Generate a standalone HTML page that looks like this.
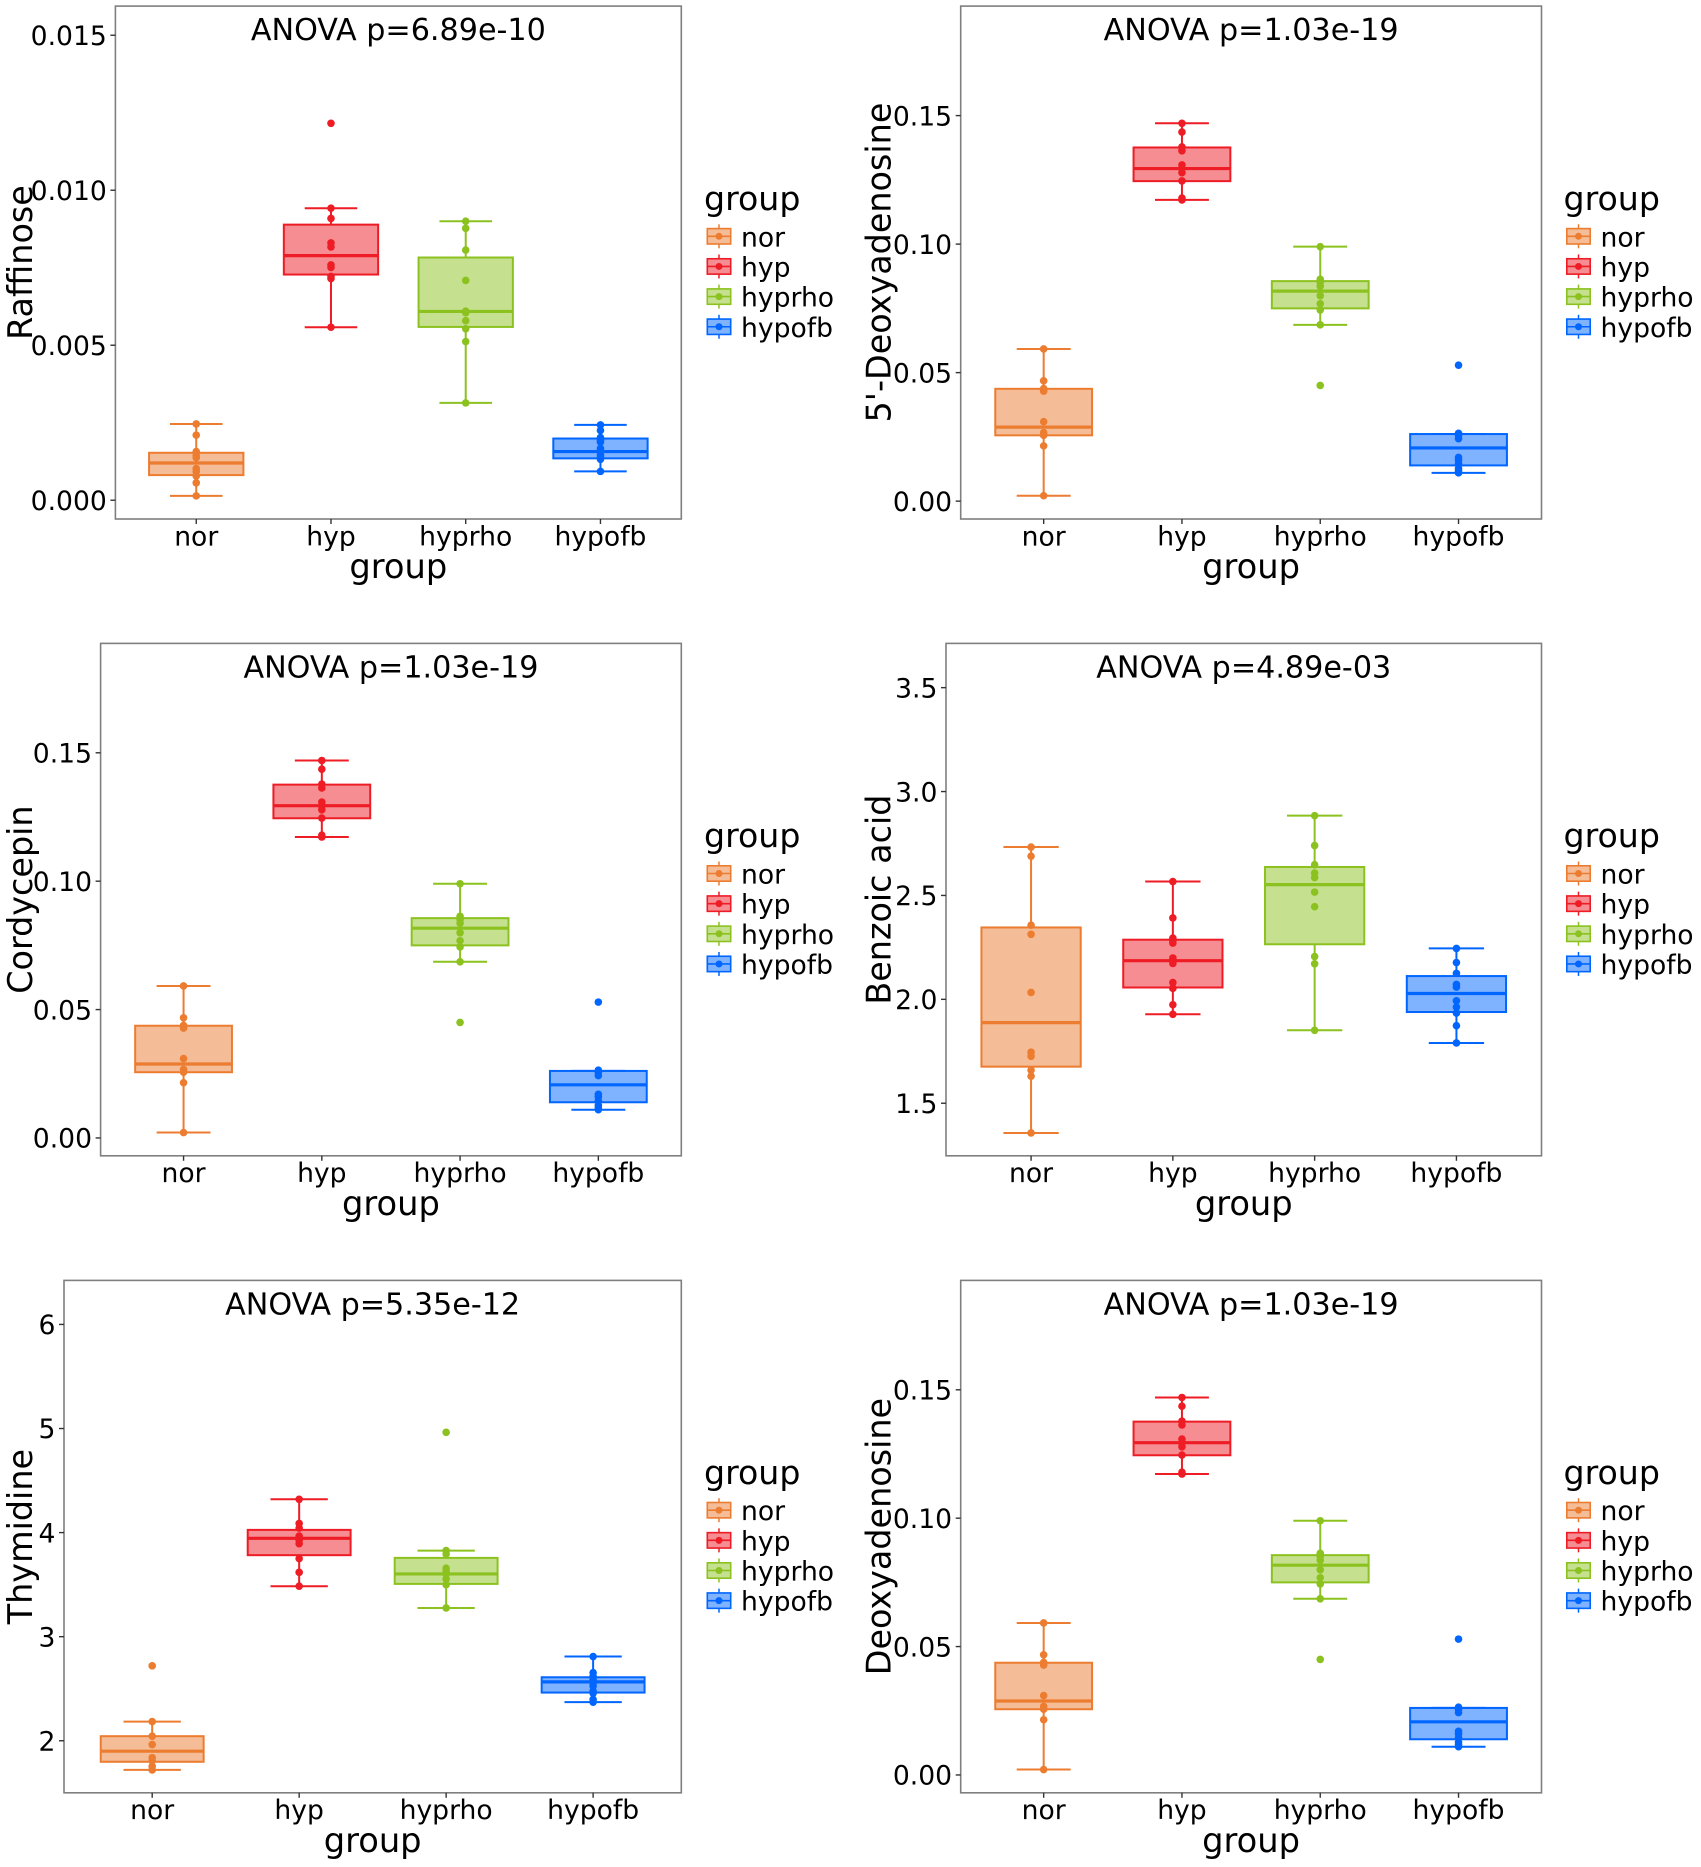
<!DOCTYPE html>
<html lang="en">
<head>
<meta charset="utf-8">
<title>Metabolite boxplots by group</title>
<style>
html,body{margin:0;padding:0;background:#fff;}
svg{display:block;}
text{font-family:"DejaVu Sans","Liberation Sans",sans-serif;fill:#000;}
</style>
</head>
<body>
<svg id="figure" xmlns="http://www.w3.org/2000/svg" width="1701" height="1867" viewBox="0 0 1701 1867"></svg>
<script>
// ---- shared categories and legend ----
const categories = ['nor', 'hyp', 'hyprho', 'hypofb'];
const groupColors = ['#ec7c30', '#ee1c25', '#8cc21f', '#0066ff'];

// ---- Raffinose ----
const raffinoseTicks = ['0.000', '0.005', '0.010', '0.015'];
const raffinoseQ1 = [0.00081, 0.00728, 0.00559, 0.00135];
const raffinoseMedian = [0.0012, 0.00789, 0.00609, 0.00157];
const raffinoseQ3 = [0.00153, 0.00889, 0.00783, 0.00199];
const raffinoseLow = [0.00014, 0.00558, 0.00314, 0.00093];
const raffinoseHigh = [0.00246, 0.00942, 0.009, 0.00243];
const raffinosePoints = [
  [0.00246, 0.0021, 0.00157, 0.00144, 0.00137, 0.00102, 0.00093, 0.00078, 0.00056, 0.00014],
  [0.01216, 0.00942, 0.00909, 0.0083, 0.00817, 0.00759, 0.00751, 0.00722, 0.00715, 0.00558],
  [0.009, 0.00877, 0.00807, 0.00709, 0.0061, 0.00605, 0.00579, 0.00553, 0.00512, 0.00314],
  [0.00243, 0.00225, 0.00202, 0.00194, 0.00188, 0.00167, 0.00157, 0.00147, 0.00138, 0.00132, 0.00093]
];

// ---- 5'-Deoxyadenosine, Cordycepin, Deoxyadenosine (identical readings) ----
const adenosineTicks = ['0.00', '0.05', '0.10', '0.15'];
const adenosineQ1 = [0.0256, 0.1245, 0.075, 0.0139];
const adenosineMedian = [0.0288, 0.1294, 0.0817, 0.0207];
const adenosineQ3 = [0.0437, 0.1376, 0.0856, 0.0261];
const adenosineLow = [0.0021, 0.1172, 0.0686, 0.011];
const adenosineHigh = [0.0592, 0.147, 0.099, 0.0261];
const adenosinePoints = [
  [0.0592, 0.0468, 0.0438, 0.0432, 0.0428, 0.0309, 0.0267, 0.0256, 0.0215, 0.0021],
  [0.147, 0.1436, 0.1378, 0.1363, 0.1308, 0.1293, 0.1278, 0.1246, 0.1179, 0.1172],
  [0.099, 0.0863, 0.0851, 0.0836, 0.0799, 0.0768, 0.0744, 0.0686, 0.045],
  [0.0529, 0.0264, 0.0255, 0.0243, 0.017, 0.016, 0.0145, 0.0127, 0.0118, 0.011]
];

// ---- Benzoic acid ----
const benzoicTicks = ['1.5', '2.0', '2.5', '3.0', '3.5'];
const benzoicQ1 = [1.676, 2.057, 2.265, 1.939];
const benzoicMedian = [1.888, 2.186, 2.552, 2.028];
const benzoicQ3 = [2.346, 2.287, 2.637, 2.112];
const benzoicLow = [1.357, 1.928, 1.851, 1.79];
const benzoicHigh = [2.733, 2.567, 2.884, 2.245];
const benzoicPoints = [
  [2.733, 2.689, 2.357, 2.313, 2.033, 1.746, 1.726, 1.659, 1.63, 1.357],
  [2.567, 2.392, 2.295, 2.282, 2.271, 2.199, 2.188, 2.173, 2.081, 2.053, 1.974, 1.928],
  [2.884, 2.74, 2.648, 2.608, 2.586, 2.516, 2.446, 2.206, 2.171, 1.851],
  [2.245, 2.177, 2.125, 2.072, 2.059, 1.993, 1.963, 1.934, 1.873, 1.79]
];

// ---- Thymidine ----
const thymidineTicks = ['2', '3', '4', '5', '6'];
const thymidineQ1 = [1.798, 3.783, 3.507, 2.463];
const thymidineMedian = [1.9, 3.945, 3.603, 2.566];
const thymidineQ3 = [2.044, 4.026, 3.757, 2.61];
const thymidineLow = [1.72, 3.485, 3.276, 2.371];
const thymidineHigh = [2.184, 4.32, 3.827, 2.809];
const thymidinePoints = [
  [2.72, 2.184, 2.044, 1.963, 1.838, 1.809, 1.754, 1.72],
  [4.32, 4.088, 4.044, 3.967, 3.926, 3.893, 3.75, 3.618, 3.485],
  [4.963, 3.827, 3.794, 3.658, 3.629, 3.6, 3.555, 3.5, 3.276],
  [2.809, 2.654, 2.618, 2.588, 2.555, 2.526, 2.478, 2.456, 2.397, 2.371]
];

// ---- panel definitions ----
const raffinoseDomain = [-0.000606, 0.01594];
const adenosineDomain = [-0.00695, 0.1926];
const benzoicDomain = [1.247, 3.713];
const thymidineDomain = [1.5, 6.423];

const panels = [
  { key: 'raffinose', yTitle: 'Raffinose', pValue: 'ANOVA p=6.89e-10', ticks: raffinoseTicks, domain: raffinoseDomain,
    q1: raffinoseQ1, med: raffinoseMedian, q3: raffinoseQ3, lo: raffinoseLow, hi: raffinoseHigh, pts: raffinosePoints,
    left: 115.4, right: 681.3, top: 6.1, bottom: 519, titleX: 20, legendX: 0, legendY: 0 },
  { key: 'five-deoxyadenosine', yTitle: "5'-Deoxyadenosine", pValue: 'ANOVA p=1.03e-19', ticks: adenosineTicks, domain: adenosineDomain,
    q1: adenosineQ1, med: adenosineMedian, q3: adenosineQ3, lo: adenosineLow, hi: adenosineHigh, pts: adenosinePoints,
    left: 960.7, right: 1541.5, top: 6.1, bottom: 519, titleX: 878.5, legendX: 859.5, legendY: 0 },
  { key: 'cordycepin', yTitle: 'Cordycepin', pValue: 'ANOVA p=1.03e-19', ticks: adenosineTicks, domain: adenosineDomain,
    q1: adenosineQ1, med: adenosineMedian, q3: adenosineQ3, lo: adenosineLow, hi: adenosineHigh, pts: adenosinePoints,
    left: 100.6, right: 681.3, top: 643.4, bottom: 1155.8, titleX: 20, legendX: 0, legendY: 637.2 },
  { key: 'benzoic-acid', yTitle: 'Benzoic acid', pValue: 'ANOVA p=4.89e-03', ticks: benzoicTicks, domain: benzoicDomain,
    q1: benzoicQ1, med: benzoicMedian, q3: benzoicQ3, lo: benzoicLow, hi: benzoicHigh, pts: benzoicPoints,
    left: 946, right: 1541.5, top: 643.4, bottom: 1155.8, titleX: 878.5, legendX: 859.5, legendY: 637.2 },
  { key: 'thymidine', yTitle: 'Thymidine', pValue: 'ANOVA p=5.35e-12', ticks: thymidineTicks, domain: thymidineDomain,
    q1: thymidineQ1, med: thymidineMedian, q3: thymidineQ3, lo: thymidineLow, hi: thymidineHigh, pts: thymidinePoints,
    left: 64, right: 681.3, top: 1280.4, bottom: 1792.8, titleX: 20, legendX: 0, legendY: 1273.9 },
  { key: 'deoxyadenosine', yTitle: 'Deoxyadenosine', pValue: 'ANOVA p=1.03e-19', ticks: adenosineTicks, domain: adenosineDomain,
    q1: adenosineQ1, med: adenosineMedian, q3: adenosineQ3, lo: adenosineLow, hi: adenosineHigh, pts: adenosinePoints,
    left: 960.7, right: 1541.5, top: 1280.4, bottom: 1792.8, titleX: 878.5, legendX: 859.5, legendY: 1273.9 }
];

const NS = 'http://www.w3.org/2000/svg';
const figure = document.getElementById('figure');

function make(parent, tag, attrs, content) {
  const node = document.createElementNS(NS, tag);
  for (const k in attrs) node.setAttribute(k, attrs[k]);
  if (content !== undefined) node.textContent = content;
  parent.appendChild(node);
  return node;
}

function drawBox(group, panel, i, xScale, yScale, unit) {
  const c = groupColors[i];
  const cx = xScale(i);
  const boxW = unit * 0.7;
  const capW = unit * 0.39;
  const parts = make(group, 'g', {});
  
  

  const upper = make(parts, 'line', { x1: cx, x2: cx, y1: yScale(panel.hi[i]), y2: yScale(panel.q3[i]), stroke: c, 'stroke-width': 2 });
  
  

  const lower = make(parts, 'line', { x1: cx, x2: cx, y1: yScale(panel.q1[i]), y2: yScale(panel.lo[i]), stroke: c, 'stroke-width': 2 });
  
  

  const capHigh = make(parts, 'line', { x1: cx - capW / 2, x2: cx + capW / 2, y1: yScale(panel.hi[i]), y2: yScale(panel.hi[i]), stroke: c, 'stroke-width': 2 });
  
  

  const capLow = make(parts, 'line', { x1: cx - capW / 2, x2: cx + capW / 2, y1: yScale(panel.lo[i]), y2: yScale(panel.lo[i]), stroke: c, 'stroke-width': 2 });
  
  

  const rect = make(parts, 'rect', {
    x: cx - boxW / 2, y: yScale(panel.q3[i]), width: boxW,
    height: yScale(panel.q1[i]) - yScale(panel.q3[i]),
    fill: c, 'fill-opacity': 0.5, stroke: c, 'stroke-width': 2
  });
  
  

  const median = make(parts, 'line', { x1: cx - boxW / 2, x2: cx + boxW / 2, y1: yScale(panel.med[i]), y2: yScale(panel.med[i]), stroke: c, 'stroke-width': 3.2 });
  
  

  panel.pts[i].forEach(function (v) {
    const dot = make(parts, 'circle', { cx: cx, cy: yScale(v), r: 3.8, fill: c });
    
    
  });
}

function drawLegend(group, dx, dy) {
  const legend = make(group, 'g', {});
  
  

  const heading = make(legend, 'text', { x: 704 + dx, y: 210 + dy, 'font-size': 33.2 }, 'group');
  
  

  categories.forEach(function (name, i) {
    const c = groupColors[i];
    const cx = 719 + dx;
    const cy = 236.3 + dy + i * 30.15;
    const entry = make(legend, 'g', {});
    
    
    make(entry, 'line', { x1: cx, x2: cx, y1: cy - 12, y2: cy + 12, stroke: c, 'stroke-width': 1.5 });
    make(entry, 'rect', { x: cx - 11.7, y: cy - 7.7, width: 23.4, height: 15.4, fill: '#fff', stroke: 'none' });
    make(entry, 'rect', { x: cx - 11.7, y: cy - 7.7, width: 23.4, height: 15.4, fill: c, 'fill-opacity': 0.5, stroke: c, 'stroke-width': 1.6 });
    make(entry, 'line', { x1: cx - 11.7, x2: cx + 11.7, y1: cy, y2: cy, stroke: c, 'stroke-width': 1.6 });
    make(entry, 'circle', { cx: cx, cy: cy, r: 3.5, fill: c });
    const label = make(entry, 'text', { x: 741 + dx, y: cy + 10, 'font-size': 26.6 }, name);
    
    
  });
}

function drawPanel(panel) {
  const group = make(figure, 'g', {});
  
  

  const unit = (panel.right - panel.left) / 4.2;
  const xScale = function (i) { return panel.left + (i + 0.6) * unit; };
  const yScale = function (v) {
    return panel.bottom - (v - panel.domain[0]) / (panel.domain[1] - panel.domain[0]) * (panel.bottom - panel.top);
  };

  const background = make(group, 'rect', { x: panel.left, y: panel.top, width: panel.right - panel.left, height: panel.bottom - panel.top, fill: '#fff' });
  
  

  categories.forEach(function (name, i) { drawBox(group, panel, i, xScale, yScale, unit); });

  const frame = make(group, 'rect', { x: panel.left, y: panel.top, width: panel.right - panel.left, height: panel.bottom - panel.top, fill: 'none', stroke: '#7f7f7f', 'stroke-width': 1.6 });
  
  

  panel.ticks.forEach(function (t) {
    const y = yScale(parseFloat(t));
    const mark = make(group, 'line', { x1: panel.left - 5, x2: panel.left, y1: y, y2: y, stroke: '#333', 'stroke-width': 1.4 });
    
    
    const label = make(group, 'text', { x: panel.left - 8.6, y: y + 9.7, 'font-size': 26.6, 'text-anchor': 'end' }, t);
    
    
  });

  categories.forEach(function (name, i) {
    const x = xScale(i);
    const mark = make(group, 'line', { x1: x, x2: x, y1: panel.bottom, y2: panel.bottom + 5, stroke: '#333', 'stroke-width': 1.4 });
    
    
    const label = make(group, 'text', { x: x, y: panel.bottom + 26.4, 'font-size': 26.6, 'text-anchor': 'middle' }, name);
    
    
  });

  const midX = (panel.left + panel.right) / 2;
  const midY = (panel.top + panel.bottom) / 2;

  const title = make(group, 'text', { x: midX, y: panel.top + 34, 'font-size': 30.2, 'text-anchor': 'middle' }, panel.pValue);
  
  

  const xTitle = make(group, 'text', { x: midX, y: panel.bottom + 59, 'font-size': 33.7, 'text-anchor': 'middle' }, 'group');
  
  

  const yTitle = make(group, 'text', {
    x: 0, y: 0, 'font-size': 33.4, 'text-anchor': 'middle',
    transform: 'translate(' + (panel.titleX + 12) + ' ' + midY + ') rotate(-90)'
  }, panel.yTitle);
  
  

  drawLegend(group, panel.legendX, panel.legendY);
}

panels.forEach(drawPanel);
</script>
</body>
</html>
